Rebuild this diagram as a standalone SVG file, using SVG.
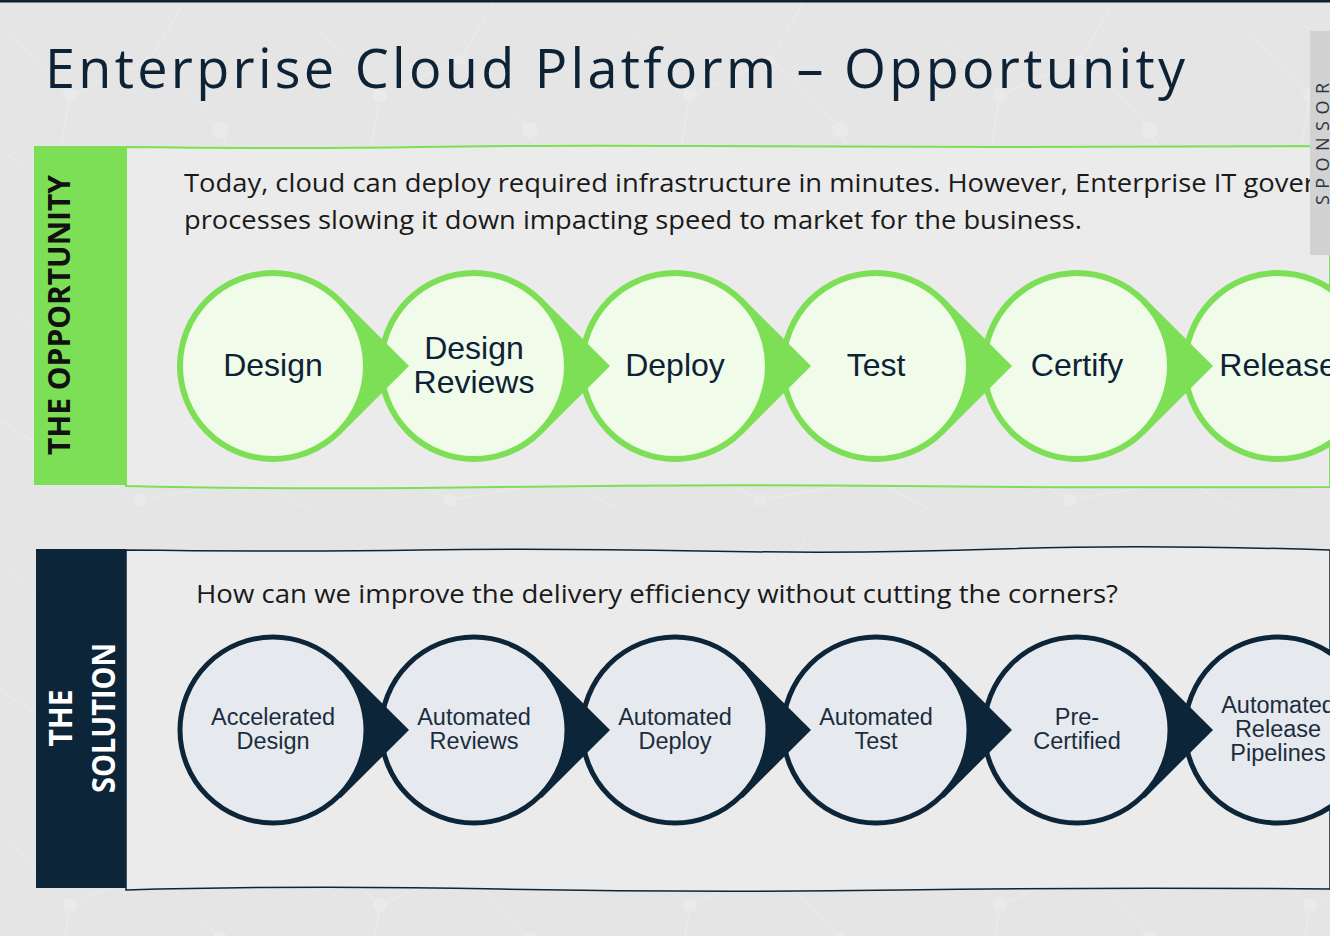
<svg xmlns="http://www.w3.org/2000/svg" width="1330" height="936" viewBox="0 0 1330 936">
  <style>
    .title { font-family: "Open Sans", "Liberation Sans", sans-serif; font-size: 54px; fill: #0e2236; }
    .para { font-family: "Open Sans", "Liberation Sans", sans-serif; font-size: 26px; fill: #1a1a1a; }
    .band { font-family: "Open Sans", "Liberation Sans", sans-serif; font-weight: 700; }
    .lbl-g { font-family: "Liberation Sans", Arial, sans-serif; font-size: 32px; fill: #0e2236; text-anchor: middle; }
    .lbl-d { font-family: "Liberation Sans", Arial, sans-serif; font-size: 23.5px; fill: #1c2d3e; text-anchor: middle; }
    .ring-g { fill: #f0fbea; stroke: #7ddf55; stroke-width: 6; }
    .wedge-g { fill: #7ddf55; }
    .ring-d { fill: #e6eaee; stroke: #0d2538; stroke-width: 5; }
    .wedge-d { fill: #0d2538; }
    .net { stroke: #ececec; stroke-width: 1; fill: none; }
    .dot { fill: #eaeaea; }
  </style>
  <defs>
    <!-- pointer behind each step circle; its tip reaches over the next circle -->
    <path id="wedge" d="M67.8,-68 L136,0 L67.8,68 L0,0 Z"/>
    <circle id="ring" r="93"/>
    <!-- faint network texture of the slide background -->
    <pattern id="netpat" width="310" height="270" patternUnits="userSpaceOnUse">
      <path class="net" d="M10,30 Q40,70 70,95 L150,60 Q190,90 220,130 M70,95 L55,185 L140,230 M150,60 L185,0 M220,130 L255,210 L140,230 M0,150 Q30,170 55,185 M255,210 L310,240"/>
      <circle class="dot" cx="70" cy="95" r="7"/>
      <circle class="dot" cx="150" cy="60" r="5"/>
      <circle class="dot" cx="220" cy="130" r="8"/>
      <circle class="dot" cx="55" cy="185" r="5"/>
      <circle class="dot" cx="140" cy="230" r="6"/>
      <circle class="dot" cx="255" cy="210" r="4"/>
    </pattern>
  </defs>

  <!-- slide background -->
  <rect width="1330" height="936" fill="#e5e5e5"/>
  <rect width="1330" height="936" fill="url(#netpat)"/>
  <rect x="0" y="0" width="1330" height="2.5" fill="#0e2236"/>

  <!-- title -->
  <text class="title" x="45" y="88" textLength="1140" lengthAdjust="spacing">Enterprise Cloud Platform – Opportunity</text>

  <!-- opportunity band -->
  <g id="opportunity-panel">
    <path d="M126,147 Q300,149 420,147 T700,146 T1000,147 T1330,146 L1330,487 Q1100,488 900,486 T500,487 T126,486 Z" fill="#ebebeb" stroke="#7ddf55" stroke-width="2"/>
    <rect x="34" y="146" width="92" height="339" fill="#7ddf55"/>
    <text class="band" transform="translate(70,315) rotate(-90)" text-anchor="middle" font-size="31" fill="#111" textLength="280" lengthAdjust="spacingAndGlyphs">THE OPPORTUNITY</text>
    <text class="para" x="184" y="192" textLength="1131" lengthAdjust="spacingAndGlyphs">Today, cloud can deploy required infrastructure in minutes. However, Enterprise IT gover</text>
    <text class="para" x="184" y="229" textLength="898" lengthAdjust="spacingAndGlyphs">processes slowing it down impacting speed to market for the business.</text>
  </g>

  <!-- solution band -->
  <g id="solution-panel">
    <path d="M126,550 Q300,552 420,550 T700,551 T1000,549 T1330,550 L1330,889 Q1100,887 900,890 T500,889 T126,890 Z" fill="#ebebeb" stroke="#0d2538" stroke-width="1.5"/>
    <rect x="36" y="549" width="90" height="339" fill="#0d2538"/>
    <text class="band" transform="translate(72,718) rotate(-90)" text-anchor="middle" font-size="32" fill="#ffffff" textLength="57" lengthAdjust="spacingAndGlyphs">THE</text>
    <text class="band" transform="translate(115,718) rotate(-90)" text-anchor="middle" font-size="32" fill="#ffffff" textLength="150" lengthAdjust="spacingAndGlyphs">SOLUTION</text>
    <text class="para" x="196" y="603" textLength="922" lengthAdjust="spacingAndGlyphs">How can we improve the delivery efficiency without cutting the corners?</text>
  </g>

  <!-- current process steps (drawn right to left so each pointer sits over the next circle) -->
  <g id="step-release" transform="translate(1278,366)">
    <use href="#ring" class="ring-g"/>
    <text class="lbl-g" y="10">Release</text>
  </g>
  <g id="step-certify" transform="translate(1077,366)">
    <use href="#wedge" class="wedge-g"/><use href="#ring" class="ring-g"/>
    <text class="lbl-g" y="10">Certify</text>
  </g>
  <g id="step-test" transform="translate(876,366)">
    <use href="#wedge" class="wedge-g"/><use href="#ring" class="ring-g"/>
    <text class="lbl-g" y="10">Test</text>
  </g>
  <g id="step-deploy" transform="translate(675,366)">
    <use href="#wedge" class="wedge-g"/><use href="#ring" class="ring-g"/>
    <text class="lbl-g" y="10">Deploy</text>
  </g>
  <g id="step-design-reviews" transform="translate(474,366)">
    <use href="#wedge" class="wedge-g"/><use href="#ring" class="ring-g"/>
    <text class="lbl-g" y="-7">Design</text>
    <text class="lbl-g" y="27">Reviews</text>
  </g>
  <g id="step-design" transform="translate(273,366)">
    <use href="#wedge" class="wedge-g"/><use href="#ring" class="ring-g"/>
    <text class="lbl-g" y="10">Design</text>
  </g>

  <!-- improved process steps -->
  <g id="sol-release" transform="translate(1278,730)">
    <use href="#ring" class="ring-d"/>
    <text class="lbl-d" y="-17">Automated</text>
    <text class="lbl-d" y="7">Release</text>
    <text class="lbl-d" y="31">Pipelines</text>
  </g>
  <g id="sol-certified" transform="translate(1077,730)">
    <use href="#wedge" class="wedge-d"/><use href="#ring" class="ring-d"/>
    <text class="lbl-d" y="-5">Pre-</text>
    <text class="lbl-d" y="19">Certified</text>
  </g>
  <g id="sol-test" transform="translate(876,730)">
    <use href="#wedge" class="wedge-d"/><use href="#ring" class="ring-d"/>
    <text class="lbl-d" y="-5">Automated</text>
    <text class="lbl-d" y="19">Test</text>
  </g>
  <g id="sol-deploy" transform="translate(675,730)">
    <use href="#wedge" class="wedge-d"/><use href="#ring" class="ring-d"/>
    <text class="lbl-d" y="-5">Automated</text>
    <text class="lbl-d" y="19">Deploy</text>
  </g>
  <g id="sol-reviews" transform="translate(474,730)">
    <use href="#wedge" class="wedge-d"/><use href="#ring" class="ring-d"/>
    <text class="lbl-d" y="-5">Automated</text>
    <text class="lbl-d" y="19">Reviews</text>
  </g>
  <g id="sol-design" transform="translate(273,730)">
    <use href="#wedge" class="wedge-d"/><use href="#ring" class="ring-d"/>
    <text class="lbl-d" y="-5">Accelerated</text>
    <text class="lbl-d" y="19">Design</text>
  </g>

  <!-- sponsor tab at the slide edge -->
  <g id="sponsor-tab">
    <rect x="1310" y="31" width="20" height="224" fill="#d2d2d2"/>
    <text transform="translate(1329,144) rotate(-90)" text-anchor="middle" font-family="'Open Sans', 'Liberation Sans', sans-serif" font-size="18" fill="#2a3644" textLength="122" lengthAdjust="spacing">SPONSOR</text>
  </g>
</svg>
